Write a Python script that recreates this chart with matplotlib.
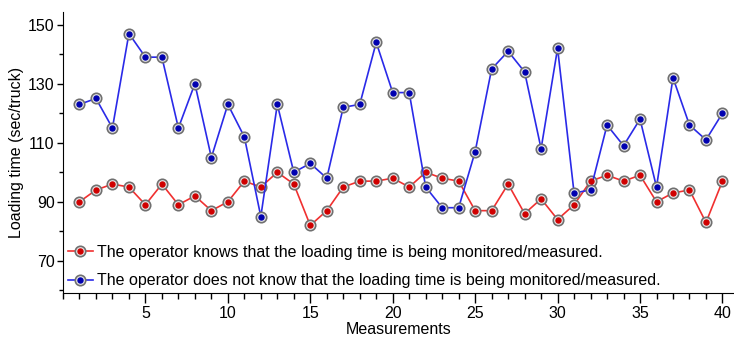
import numpy as np
import matplotlib
matplotlib.use("Agg")
import matplotlib.pyplot as plt
from matplotlib.ticker import MultipleLocator

plt.rcParams['font.family'] = ['Liberation Sans', 'DejaVu Sans']

# 数据
measurements = list(range(1, 41))
known = [90, 94, 96, 95, 89, 96, 89, 92, 87, 90,
         97, 95, 100, 96, 82, 87, 95, 97, 97, 98,
         95, 100, 98, 97, 87, 87, 96, 86, 91, 84,
         89, 97, 99, 97, 99, 90, 93, 94, 83, 97]
unknown = [123, 125, 115, 147, 139, 139, 115, 130, 105, 123,
           112, 85, 123, 100, 103, 98, 122, 123, 144, 127,
           127, 95, 88, 88, 107, 135, 141, 134, 108, 142,
           93, 94, 116, 109, 118, 95, 132, 116, 111, 120]
labels = ['The operator knows that the loading time is being monitored/measured.',
          'The operator does not know that the loading time is being monitored/measured.']
y_ticks = [70, 90, 110, 130, 150]
x_ticks = [5, 10, 15, 20, 25, 30, 35, 40]

fig = plt.figure(figsize=(7.34, 3.38), dpi=100)
ax = fig.add_axes([0.0858, 0.1331, 0.9142, 0.8314])

handles = []
for ys, lc, dc in [(known, '#f03030', '#d00000'), (unknown, '#2a2ae8', '#0000b0')]:
    ln, = ax.plot(measurements, ys, color=lc, lw=1.2, marker='o', ms=7.5,
                  mfc='#e6e6e6', mec='#707070', mew=1.2, zorder=2)
    dt, = ax.plot(measurements, ys, ls='none', marker='o', ms=3.6,
                  mfc=dc, mec=dc, zorder=3)
    handles.append((ln, dt))

ax.legend(handles, labels, loc='lower left', frameon=False, fontsize=11.5,
          handlelength=1.55, handletextpad=0.25, labelspacing=0.85,
          borderpad=0.2, borderaxespad=0.1)

ax.set_xlim(0, 40.7)
ax.set_ylim(59.1, 154.3)
ax.set_xticks(x_ticks)
ax.set_yticks(y_ticks)
ax.xaxis.set_minor_locator(MultipleLocator(1))
ax.yaxis.set_minor_locator(MultipleLocator(10))
ax.tick_params(axis='x', which='major', length=7, width=1, labelsize=11.5, pad=2)
ax.tick_params(axis='x', which='minor', length=4, width=1)
ax.tick_params(axis='y', which='major', length=4, width=1, labelsize=11.5, pad=2)
ax.tick_params(axis='y', which='minor', length=3, width=1)
ax.spines['top'].set_visible(False)
ax.spines['right'].set_visible(False)
ax.set_xlabel('Measurements', fontsize=11.5, labelpad=1)
ax.set_ylabel('Loading time (sec/truck)', fontsize=11.5, labelpad=3)

fig.savefig('out.png', dpi=100)
